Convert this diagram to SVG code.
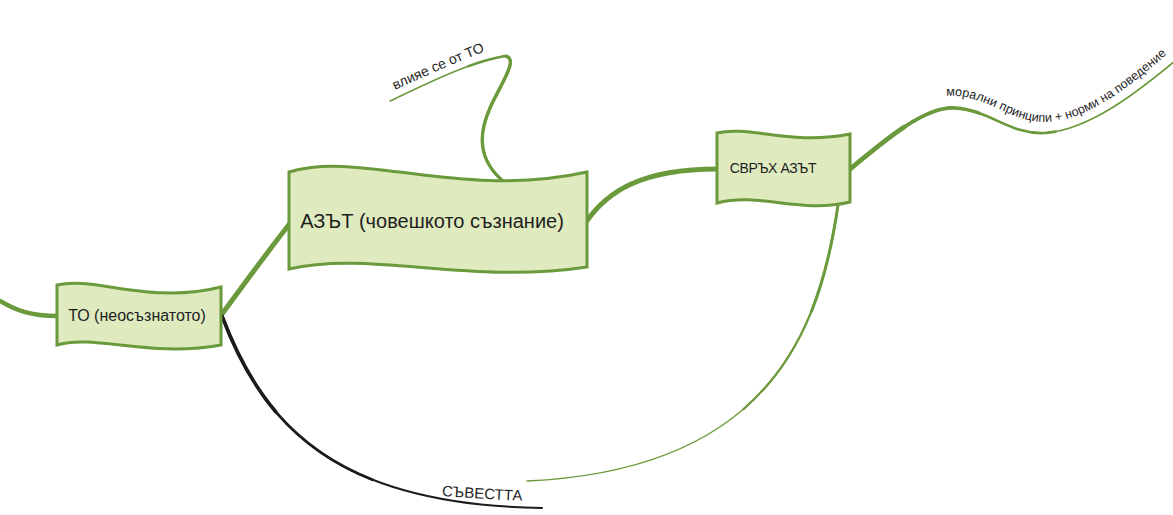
<svg xmlns="http://www.w3.org/2000/svg" width="1173" height="515" viewBox="0 0 1173 515">
<defs>
<style>
.node{fill:#dfeabf;stroke:#6b9a3c;stroke-width:3;stroke-linejoin:miter}
.lbl{font-family:"Liberation Sans",Arial,sans-serif;fill:#1e1e1e}
.g{fill:none;stroke:#6b9a3c;stroke-linecap:round}
.k{fill:none;stroke:#1c1c1c;stroke-linecap:round}
</style>
<path id="pVl" d="M395,90 C 430,74 465,58 500,46"/>
<path id="pMor" d="M946,96 C 985,93 1008,122 1045,122 C 1090,121 1135,82 1174,48"/>
<path id="pSav" d="M442,496 C 470,498 500,500 530,501"/>
</defs>
<rect width="1173" height="515" fill="#ffffff"/>
<g id="connectors">
<path class="g" stroke-width="4.5" d="M0,301 C 15,310 30,316 58,316"/>
<path class="g" stroke-width="5" d="M222,314 C 245,283 265,255 291,222"/>
<path class="g" stroke-width="5" d="M586,222 C 607,192 640,169 718,169"/>
<path id="cVl" class="g" stroke-width="1.6" d="M504,182 C 478,160 478,135 490,108 C 500,85 520,58 505,56 C 470,62 430,82 390,101"/>
<path class="g" stroke-width="3.4" stroke-dasharray="140 1000" d="M504,182 C 478,160 478,135 490,108 C 500,85 520,58 505,56 C 470,62 430,82 390,101"/>
<path class="g" stroke-width="2.4" stroke-dasharray="180 1000" d="M504,182 C 478,160 478,135 490,108 C 500,85 520,58 505,56 C 470,62 430,82 390,101"/>
<path class="g" stroke-width="1.6" d="M849,170 C 885,140 925,106 955,108 C 990,110 1010,135 1045,133 C 1090,130 1140,90 1175,61"/>
<path class="g" stroke-width="2.6" stroke-dasharray="230 1000" d="M849,170 C 885,140 925,106 955,108 C 990,110 1010,135 1045,133 C 1090,130 1140,90 1175,61"/>
<path class="g" stroke-width="3.6" stroke-dasharray="150 1000" d="M849,170 C 885,140 925,106 955,108 C 990,110 1010,135 1045,133 C 1090,130 1140,90 1175,61"/>
<path class="g" stroke-width="4.6" stroke-dasharray="70 1000" d="M849,170 C 885,140 925,106 955,108 C 990,110 1010,135 1045,133 C 1090,130 1140,90 1175,61"/>
<path class="g" stroke-width="1.5" d="M838,205 C 820,330 770,470 527,481"/>
<path class="g" stroke-width="2.2" stroke-dasharray="230 1000" d="M838,205 C 820,330 770,470 527,481"/>
<path class="g" stroke-width="3" stroke-dasharray="110 1000" d="M838,205 C 820,330 770,470 527,481"/>
<path class="k" stroke-width="2" d="M222,316 C 265,430 340,505 542,508"/>
<path class="k" stroke-width="2.8" stroke-dasharray="230 1000" d="M222,316 C 265,430 340,505 542,508"/>
<path class="k" stroke-width="3.6" stroke-dasharray="110 1000" d="M222,316 C 265,430 340,505 542,508"/>
<text class="lbl" font-size="14"><textPath href="#pVl">влияе се от ТО</textPath></text>
<text class="lbl" font-size="12.6"><textPath href="#pMor">морални принципи + норми на поведение</textPath></text>
<text class="lbl" font-size="15"><textPath href="#pSav">СЪВЕСТТА</textPath></text>
</g>
<g id="node-to">
<path class="node" d="M57,285 C 95,276 150,305 221,287 L221,345 C 150,358 95,334 57,345 Z"/>
<text class="lbl" x="137" y="321" font-size="16" text-anchor="middle">ТО (неосъзнатото)</text>
</g>
<g id="node-azat">
<path class="node" d="M289,172 C 360,150 460,200 587,172 L587,267 C 470,285 370,250 289,269 Z"/>
<text class="lbl" x="432" y="228" font-size="20" text-anchor="middle">АЗЪТ (човешкото съзнание)</text>
</g>
<g id="node-svrah">
<path class="node" d="M717,133 C 750,125 790,146 850,134 L850,202 C 800,214 760,192 717,203 Z"/>
<text class="lbl" x="773" y="173" font-size="14" letter-spacing="-0.4" text-anchor="middle">СВРЪХ АЗЪТ</text>
</g>
</svg>
